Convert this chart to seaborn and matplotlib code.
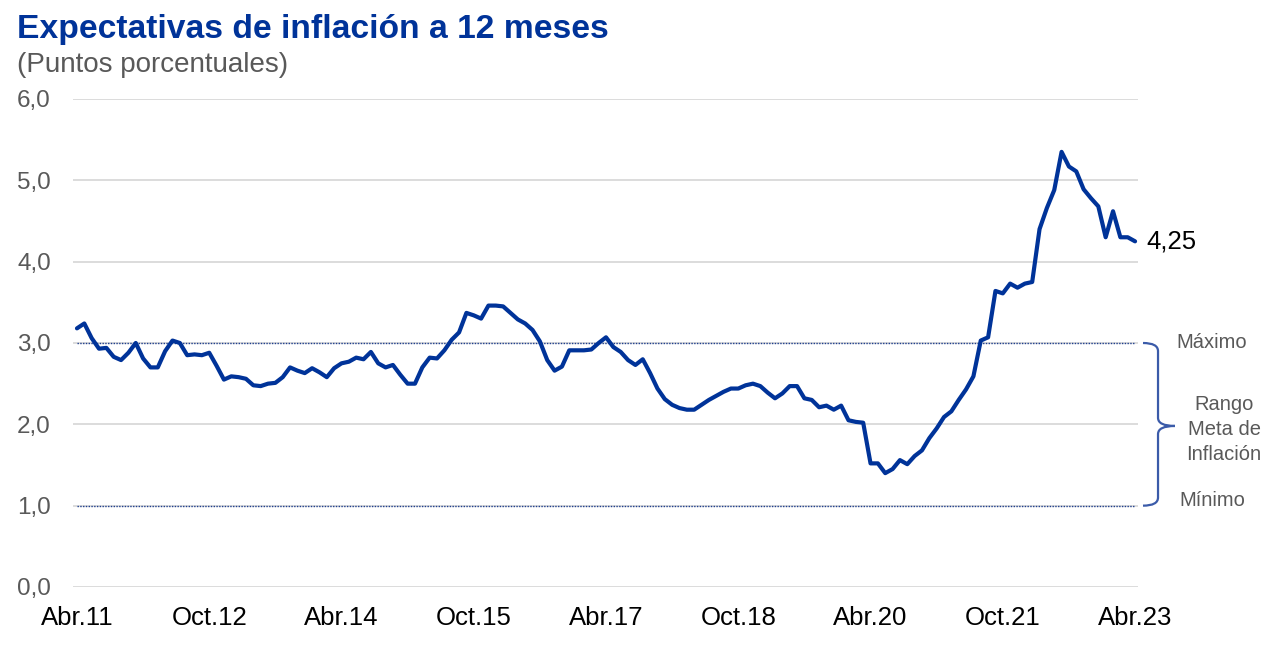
import numpy as np
import pandas as pd
import matplotlib
matplotlib.use("Agg")
import matplotlib.pyplot as plt
import matplotlib.transforms as mtransforms
from matplotlib.path import Path
from matplotlib.patches import PathPatch
import seaborn as sns

# Expectativas de inflación a 12 meses, mensual Abr.11 - Abr.23
expectativas = [
    3.18, 3.24, 3.06, 2.93, 2.94, 2.83, 2.79, 2.88, 3.00, 2.81,
    2.70, 2.70, 2.90, 3.03, 3.00, 2.85, 2.86, 2.85, 2.88, 2.72,
    2.55, 2.59, 2.58, 2.56, 2.48, 2.47, 2.50, 2.51, 2.58, 2.70,
    2.66, 2.63, 2.69, 2.64, 2.58, 2.69, 2.75, 2.77, 2.82, 2.80,
    2.89, 2.75, 2.70, 2.73, 2.61, 2.50, 2.50, 2.70, 2.82, 2.81,
    2.91, 3.04, 3.13, 3.37, 3.34, 3.30, 3.46, 3.46, 3.45, 3.37,
    3.29, 3.24, 3.16, 3.02, 2.79, 2.66, 2.71, 2.91, 2.91, 2.91,
    2.92, 3.00, 3.07, 2.95, 2.89, 2.79, 2.73, 2.80, 2.63, 2.44,
    2.31, 2.24, 2.20, 2.18, 2.18, 2.24, 2.30, 2.35, 2.40, 2.44,
    2.44, 2.48, 2.50, 2.47, 2.39, 2.32, 2.38, 2.47, 2.47, 2.32,
    2.30, 2.21, 2.23, 2.18, 2.23, 2.05, 2.03, 2.02, 1.52, 1.52,
    1.40, 1.45, 1.56, 1.51, 1.61, 1.68, 1.83, 1.95, 2.09, 2.16,
    2.30, 2.43, 2.59, 3.03, 3.07, 3.64, 3.61, 3.73, 3.68, 3.73,
    3.75, 4.40, 4.66, 4.88, 5.35, 5.17, 5.11, 4.89, 4.78, 4.68,
    4.30, 4.62, 4.30, 4.30, 4.25,
]
tick_labels = ["Abr.11", "Oct.12", "Abr.14", "Oct.15", "Abr.17",
               "Oct.18", "Abr.20", "Oct.21", "Abr.23"]
meta_min = 1.0
meta_max = 3.0

df = pd.DataFrame({"mes": np.arange(len(expectativas)), "valor": expectativas})

AZUL = "#003399"
GRIS = "#595959"

sns.set_style("white")
plt.rcParams["font.family"] = ["Liberation Sans", "DejaVu Sans"]

fig = plt.figure(figsize=(12.8, 6.51), dpi=100)
ax = fig.add_axes([73 / 1280, 64 / 651, 1065 / 1280, 488 / 651])

# grid
for v in range(0, 7):
    ax.axhline(v, color="#D9D9D9", lw=1.3, zorder=0)

# rango meta
ax.hlines([meta_max, meta_min], 0, len(expectativas) - 1, colors="#1F3F8F",
          linestyles=(0, (1, 1)), lw=1.0, zorder=1)

sns.lineplot(data=df, x="mes", y="valor", color=AZUL, lw=3.0, ax=ax, zorder=3)

ax.set_xlim(-0.54, 144.4)
ax.set_ylim(0, 6)
ax.set_xticks(np.arange(0, len(expectativas), 18))
ax.set_xticklabels(tick_labels)
ax.set_yticks(np.arange(0, 7, 1))
ax.set_yticklabels([f"{v:.1f}".replace(".", ",") for v in range(0, 7)])
ax.tick_params(axis="x", length=0, pad=13.5, labelsize=18.5, labelcolor="black")
ax.tick_params(axis="y", length=0, pad=16, labelsize=17.5, labelcolor=GRIS)
ax.set_xlabel("")
ax.set_ylabel("")
for s in ax.spines.values():
    s.set_visible(False)

# ultimo valor
ultimo = expectativas[-1]
ax.annotate(f"{ultimo:.2f}".replace(".", ","), xy=(len(expectativas) - 1, ultimo),
            xytext=(8.5, 0), textcoords="offset points", va="center", ha="left",
            fontsize=18.5, color="black")

# llave del rango meta
trans = mtransforms.blended_transform_factory(ax.transAxes, ax.transData)
x0, x1, x2 = 1.0047, 1.0188, 1.0347
mid = 1.98
r = 0.1
verts = [(x0, meta_max), (x1, meta_max), (x1, meta_max - r),
         (x1, mid + r), (x1, mid), (x2, mid),
         (x1, mid), (x1, mid - r),
         (x1, meta_min + r), (x1, meta_min), (x0, meta_min)]
codes = [Path.MOVETO, Path.CURVE3, Path.CURVE3,
         Path.LINETO, Path.CURVE3, Path.CURVE3,
         Path.CURVE3, Path.CURVE3,
         Path.LINETO, Path.CURVE3, Path.CURVE3]
brace = PathPatch(Path(verts, codes), transform=trans, fill=False,
                  edgecolor="#3B5BA9", lw=1.6, clip_on=False)
ax.add_patch(brace)

ax.text(1.0695, meta_max, "Máximo", transform=trans, ha="center", va="center",
        fontsize=14.5, color=GRIS)
ax.text(1.0695, meta_min + 0.06, "Mínimo", transform=trans, ha="center",
        va="center", fontsize=14.5, color=GRIS)
ax.text(1.0808, 1.94, "Rango\nMeta de\nInflación", transform=trans, ha="center",
        va="center", fontsize=14.5, color=GRIS, linespacing=1.4)

# titulos
fig.text(17 / 1280, 1 - 38 / 651, "Expectativas de inflación a 12 meses",
         fontsize=24.2, fontweight="bold", color=AZUL, va="baseline", ha="left")
fig.text(17 / 1280, 1 - 72 / 651, "(Puntos porcentuales)",
         fontsize=20, color=GRIS, va="baseline", ha="left")

fig.savefig("out.png", dpi=100)
